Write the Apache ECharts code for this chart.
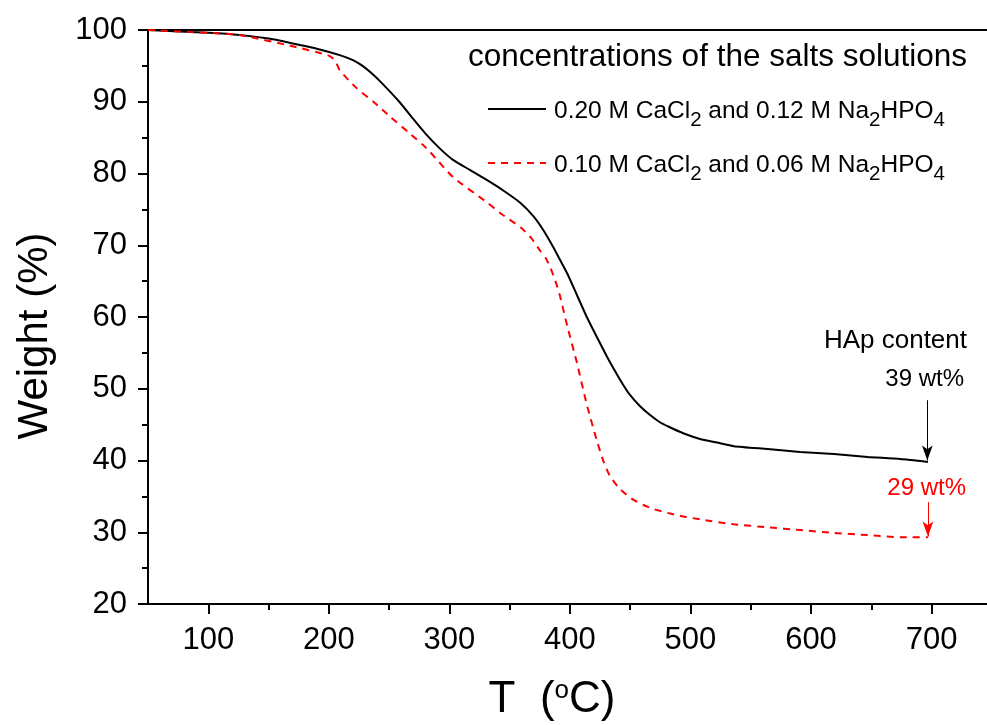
<!DOCTYPE html>
<html>
<head>
<meta charset="utf-8">
<script src="https://cdn.jsdelivr.net/npm/echarts@6/dist/echarts.min.js"></script>
<style>
  html, body { margin: 0; padding: 0; background: #fff; }
  #charts { width: 987px; height: 725px; }
</style>
</head>
<body>
<div id="charts"></div>
<script>
// TGA curves, T (°C) vs weight (%)
var tempHigh = [50, 100, 126, 150, 168, 190, 209, 220, 228, 236, 244, 259, 270, 280, 292, 303, 317, 331, 345, 359, 370, 378, 386, 392, 398, 406, 414, 423, 431, 438, 444, 450, 458, 466, 474, 482, 494, 508, 522, 536, 564, 591, 619, 647, 674, 697];
var weightHigh = [100, 99.6, 99.3, 98.8, 98.2, 97.4, 96.5, 95.8, 95.0, 93.9, 92.6, 89.9, 87.6, 85.6, 83.5, 81.9, 80.5, 79.1, 77.6, 75.9, 74.0, 72.1, 69.8, 67.9, 66.0, 63.0, 60.0, 57.0, 54.4, 52.3, 50.6, 49.1, 47.6, 46.4, 45.4, 44.7, 43.8, 43.0, 42.5, 42.0, 41.6, 41.2, 40.9, 40.5, 40.2, 39.8];

var tempLow = [50, 100, 126, 168, 199, 205, 209, 223, 237, 251, 267, 278, 284, 303, 331, 342, 359, 368, 375, 380, 384, 388, 392, 398, 406, 414, 423, 428, 433, 440, 447, 454, 461, 470, 481, 494, 508, 536, 564, 591, 619, 647, 674, 697];
var weightLow = [100, 99.6, 99.3, 97.8, 96.5, 95.8, 94.4, 91.9, 90.0, 87.9, 85.6, 84.0, 83.0, 79.5, 76.0, 74.5, 72.5, 71.0, 69.3, 68.2, 66.8, 65.0, 62.8, 58.6, 53.5, 47.8, 42.4, 39.8, 37.9, 36.3, 35.2, 34.4, 33.8, 33.2, 32.7, 32.2, 31.8, 31.1, 30.7, 30.3, 29.9, 29.6, 29.3, 29.3];

var xMajorTicks = [100, 200, 300, 400, 500, 600, 700];
var xMinorTicks = [150, 250, 350, 450, 550, 650];

function pairs(xs, ys) {
    var out = [];
    for (var i = 0; i < xs.length; i++) {
        out.push([xs[i], ys[i]]);
    }
    return out;
}

var font = 'Liberation Sans, Arial, sans-serif';
var myChart = echarts.init(document.getElementById('charts'));

var legendRich = {
    n: { fontSize: 24.5, lineHeight: 40, fontFamily: font, color: '#000' },
    s: { fontSize: 20.5, lineHeight: 20, verticalAlign: 'bottom', fontFamily: font, color: '#000' }
};

var axisBlack = { color: '#000', width: 2 };

var option = {
    animation: false,
    backgroundColor: '#fff',
    grid: {
        left: 148,
        top: 30,
        bottom: 121,
        right: 0
    },
    xAxis: [{
        type: 'value',
        min: 50,
        max: 746,
        interval: 50,
        axisLine: { lineStyle: axisBlack },
        axisTick: { show: true, customValues: xMajorTicks, length: 10, lineStyle: axisBlack },
        axisLabel: { customValues: xMajorTicks, fontSize: 31, fontFamily: font, color: '#000', margin: 21 },
        splitLine: { show: false }
    }, {
        type: 'value',
        min: 50,
        max: 746,
        interval: 50,
        position: 'bottom',
        axisLine: { show: false },
        axisTick: { show: true, customValues: xMinorTicks, length: 6, lineStyle: axisBlack },
        axisLabel: { show: false },
        splitLine: { show: false }
    }, {
        // top frame line
        type: 'value',
        min: 50,
        max: 746,
        interval: 50,
        position: 'top',
        axisLine: { show: true, lineStyle: axisBlack },
        axisTick: { show: false },
        axisLabel: { show: false },
        splitLine: { show: false }
    }],
    yAxis: {
        type: 'value',
        min: 20,
        max: 100,
        interval: 10,
        axisLine: { show: true, lineStyle: axisBlack },
        axisTick: { show: true, length: 10, lineStyle: axisBlack },
        minorTick: { show: true, splitNumber: 2, length: 6, lineStyle: axisBlack },
        axisLabel: { fontSize: 31, fontFamily: font, color: '#000', margin: 21 },
        splitLine: { show: false }
    },
    series: [{
        name: '0.20 M',
        type: 'line',
        data: pairs(tempHigh, weightHigh),
        showSymbol: false,
        smooth: 0.2,
        lineStyle: { color: '#000', width: 2 },
        markLine: {
            silent: true,
            label: { show: false },
            lineStyle: { color: '#000', width: 1, type: 'solid' },
            data: [[
                { coord: [696.5, 48.4], symbol: 'none' },
                { coord: [696.5, 40.0], symbol: 'arrow', symbolSize: [8, 15] }
            ]]
        }
    }, {
        name: '0.10 M',
        type: 'line',
        data: pairs(tempLow, weightLow),
        showSymbol: false,
        smooth: 0.2,
        lineStyle: { color: '#ff0000', width: 2, type: [7, 6] },
        markLine: {
            silent: true,
            label: { show: false },
            lineStyle: { color: '#ff0000', width: 1, type: 'solid' },
            data: [[
                { coord: [697, 34.2], symbol: 'none' },
                { coord: [697, 29.4], symbol: 'arrow', symbolSize: [8, 15] }
            ]]
        }
    }],
    graphic: [
        // axis titles
        {
            type: 'text', x: 35, y: 336, rotation: Math.PI / 2,
            style: { text: 'Weight (%)', font: '42px ' + font, fill: '#000', align: 'center', verticalAlign: 'middle' }
        },
        {
            type: 'text', x: 552, y: 700,
            style: {
                text: 'T  ({p|o}C)', align: 'center', verticalAlign: 'middle',
                font: '44px ' + font, fill: '#000',
                rich: {
                    p: { fontSize: 26, lineHeight: 26, verticalAlign: 'top', fontFamily: font, fill: '#000' }
                }
            }
        },
        // legend
        {
            type: 'text', x: 468, y: 57,
            style: { text: 'concentrations of the salts solutions', font: '31.5px ' + font, fill: '#000', verticalAlign: 'middle' }
        },
        {
            type: 'line', shape: { x1: 488, y1: 109, x2: 546, y2: 109 },
            style: { stroke: '#000', lineWidth: 2 }
        },
        {
            type: 'line', shape: { x1: 488, y1: 163, x2: 546, y2: 163 },
            style: { stroke: '#ff0000', lineWidth: 2, lineDash: [7, 6] }
        },
        {
            type: 'text', x: 554, y: 111,
            style: {
                text: '{n|0.20 M CaCl}{s|2}{n| and 0.12 M Na}{s|2}{n|HPO}{s|4}',
                verticalAlign: 'middle', rich: legendRich
            }
        },
        {
            type: 'text', x: 554, y: 165,
            style: {
                text: '{n|0.10 M CaCl}{s|2}{n| and 0.06 M Na}{s|2}{n|HPO}{s|4}',
                verticalAlign: 'middle', rich: legendRich
            }
        },
        // annotations
        {
            type: 'text', x: 967, y: 341,
            style: { text: 'HAp content', font: '26px ' + font, fill: '#000', align: 'right', verticalAlign: 'middle' }
        },
        {
            type: 'text', x: 964, y: 379,
            style: { text: '39 wt%', font: '24px ' + font, fill: '#000', align: 'right', verticalAlign: 'middle' }
        },
        {
            type: 'text', x: 966, y: 488,
            style: { text: '29 wt%', font: '24px ' + font, fill: '#ff0000', align: 'right', verticalAlign: 'middle' }
        }
    ]
};

myChart.setOption(option);
</script>
</body>
</html>
